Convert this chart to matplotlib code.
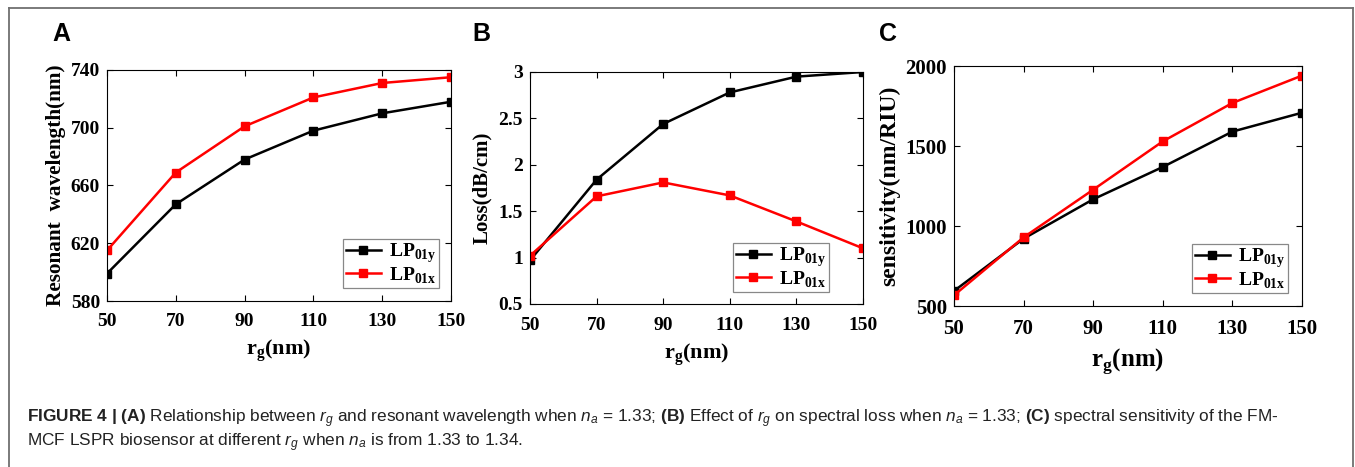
import matplotlib
matplotlib.use("Agg")
import matplotlib.pyplot as plt
from matplotlib import font_manager
from matplotlib.lines import Line2D

# data
rg = [50, 70, 90, 110, 130, 150]
wl_y = [599, 647, 678, 698, 710, 718]
wl_x = [615, 669, 701, 721, 731, 735]
loss_y = [0.97, 1.84, 2.44, 2.78, 2.95, 3.0]
loss_x = [1.02, 1.66, 1.81, 1.67, 1.39, 1.10]
sens_y = [594, 921, 1167, 1369, 1590, 1708]
sens_x = [567, 929, 1227, 1529, 1769, 1940]

xticks = [50, 70, 90, 110, 130, 150]
yticks_a = [580, 620, 660, 700, 740]
yticks_b = [0.5, 1, 1.5, 2, 2.5, 3]
yticks_c = [500, 1000, 1500, 2000]

names = {f.name for f in font_manager.fontManager.ttflist}
cap_font = "Liberation Sans Narrow" if "Liberation Sans Narrow" in names else "Liberation Sans"

plt.rcParams["font.family"] = "Liberation Serif"
plt.rcParams["font.weight"] = "bold"
plt.rcParams["axes.labelweight"] = "bold"
plt.rcParams["mathtext.fontset"] = "custom"
plt.rcParams["mathtext.bf"] = "Liberation Serif:bold"
plt.rcParams["mathtext.rm"] = cap_font + ":normal"
plt.rcParams["mathtext.it"] = cap_font + ":italic:normal"
plt.rcParams["mathtext.sf"] = cap_font + ":bold"

W, H = 1355, 467
fig = plt.figure(figsize=(W / 100, H / 100), dpi=100)


def panel(box, ys, yx, yticks, ylabel, legbox, letter, letter_x,
          tsize, ysize, xsize, ylab_x, xlab_top):
    l, t, r, b = box
    ax = fig.add_axes([l / W, 1 - b / H, (r - l) / W, (b - t) / H])
    ax.plot(rg, ys, "-s", color="black", lw=1.8, ms=6, label=r"LP$_{\mathbf{01y}}$")
    ax.plot(rg, yx, "-s", color="#ff0000", lw=1.8, ms=6, label=r"LP$_{\mathbf{01x}}$")
    ax.set_xlim(50, 150)
    ax.set_ylim(yticks[0], yticks[-1])
    ax.set_xticks(xticks)
    ax.set_yticks(yticks)
    ax.set_yticklabels([f"{v:g}" for v in yticks])
    ax.tick_params(direction="in", top=True, right=True, length=4, width=0.8,
                   labelsize=tsize)
    ax.tick_params(axis="x", pad=9)
    ax.tick_params(axis="y", pad=5)
    for s in ax.spines.values():
        s.set_linewidth(0.8)
    ax.set_xlabel(r"$\mathbf{r}_{\mathbf{g}}$(nm)", fontsize=xsize, va="top")
    ax.set_ylabel(ylabel, fontsize=ysize, va="center")
    ax.xaxis.set_label_coords(0.5, (b - xlab_top) / (b - t))
    ax.yaxis.set_label_coords((ylab_x - l) / (r - l), 0.5)
    # legend lower-right corner in pixels -> axes fraction
    lr_x, lr_y = legbox
    leg = ax.legend(loc="lower right",
                    bbox_to_anchor=((lr_x - l) / (r - l), (b - lr_y) / (b - t)),
                    prop=font_manager.FontProperties(family="Liberation Serif",
                                                     weight="bold", size=14),
                    fancybox=False, edgecolor="#888888", framealpha=1,
                    handlelength=1.8, borderpad=0.15, labelspacing=0.0,
                    handletextpad=0.4, borderaxespad=0)
    leg.get_frame().set_linewidth(0.9)
    fig.text(letter_x / W, 1 - 34 / H, letter, fontsize=18, fontweight="bold",
             family="Liberation Sans", va="center", ha="left")
    return ax


panel((107, 70, 451, 301), wl_y, wl_x, yticks_a, "Resonant  wavelength(nm)",
      (439, 288), "A", 52, 14, 15.3, 16, 56, 338)
panel((530, 72, 863, 304), loss_y, loss_x, yticks_b, "Loss(dB/cm)",
      (829, 292), "B", 472, 14, 15, 16, 482, 342)
panel((954, 66, 1302, 306), sens_y, sens_x, yticks_c, "sensitivity(nm/RIU)",
      (1288, 293), "C", 879, 15, 17, 18, 890, 346)

# outer frame (open at bottom)
fc = "#707070"
fig.add_artist(Line2D([9 / W, 9 / W], [0, 1 - 8 / H], color=fc, lw=1.3))
fig.add_artist(Line2D([9 / W, 1353 / W], [1 - 8 / H, 1 - 8 / H], color=fc, lw=1.3))
fig.add_artist(Line2D([1353 / W, 1353 / W], [0, 1 - 8 / H], color=fc, lw=1.3))

cap1 = (r"$\mathsf{FIGURE\ 4\ |\ (A)}$ Relationship between $r_g$ and resonant wavelength when "
        r"$n_a$ = 1.33; $\mathsf{(B)}$ Effect of $r_g$ on spectral loss when $n_a$ = 1.33; "
        r"$\mathsf{(C)}$ spectral sensitivity of the FM-")
cap2 = r"MCF LSPR biosensor at different $r_g$ when $n_a$ is from 1.33 to 1.34."
fig.text(27 / W, 1 - 419 / H, cap1, fontsize=12.4, family=cap_font, weight="normal",
         va="center", color="#222222")
fig.text(27 / W, 1 - 443 / H, cap2, fontsize=12.4, family=cap_font, weight="normal",
         va="center", color="#222222")

fig.savefig("out.png", dpi=100)
